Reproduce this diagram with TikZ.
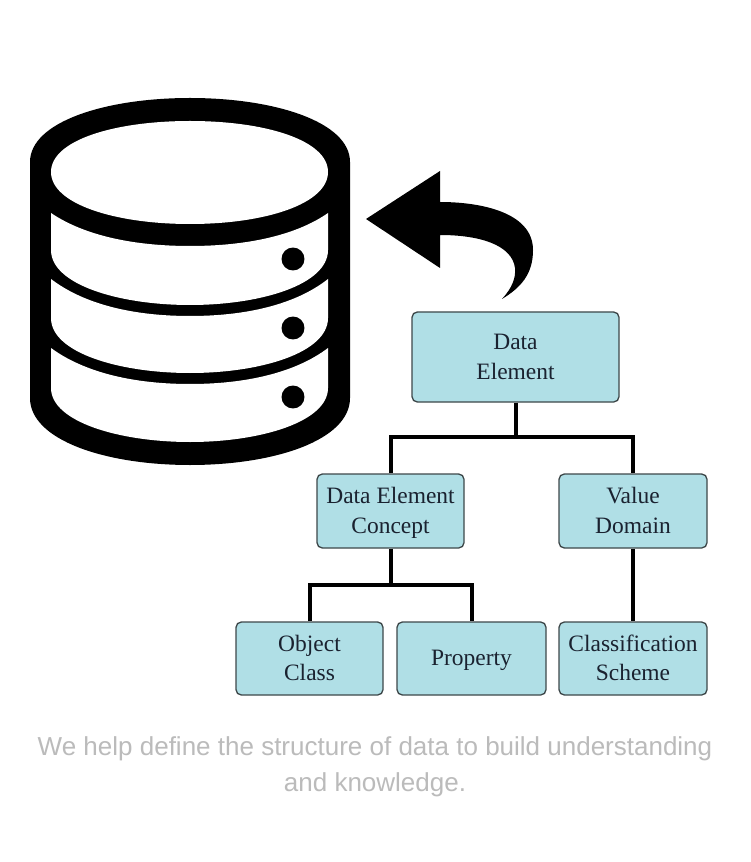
\documentclass[tikz,border=0pt]{standalone}
\usepackage{fontspec}
\setmainfont{Liberation Serif}
\newfontfamily\capfont{Liberation Sans}
\definecolor{boxfill}{HTML}{B0DFE6}
\definecolor{boxline}{HTML}{3E484A}
\definecolor{boxtext}{HTML}{1A2230}
\definecolor{capgray}{HTML}{BBBBBB}
\newcommand{\bstrut}{\rule[-5.3pt]{0pt}{21.8pt}}
\tikzset{
  concept/.style={draw=boxline,line width=1pt,fill=boxfill,rounded corners=4pt,inner sep=0pt,align=center,
    text=boxtext,font=\fontsize{17.6pt}{21.8pt}\selectfont,anchor=center},
  link/.style={draw=black,line width=3pt,line join=miter},
  captiontext/.style={text=capgray,font=\capfont\fontsize{19.5pt}{27pt}\selectfont,align=center,anchor=center,inner sep=0pt},
  panel/.style={fill=white,draw=none}
}
\begin{document}
\begin{tikzpicture}[x=0.75pt,y=-0.75pt]
\useasboundingbox[fill=white] (0,0) rectangle (750,862);
% database
\fill[black] (30,162) .. controls (30,122) and (105,98) .. (190,98) .. controls (275,98) and (350,122) .. (350,162)
  -- (350,398) .. controls (350,440) and (275,465) .. (190,465) .. controls (105,465) and (30,440) .. (30,398) -- cycle;
\fill[panel] (51,172) .. controls (51,140) and (115,121) .. (190,121) .. controls (265,121) and (328,140) .. (328,172)
  .. controls (328,204) and (265,224) .. (190,224) .. controls (115,224) and (51,204) .. (51,172) -- cycle;
\fill[panel] (51,213) .. controls (85,236) and (135,246) .. (190,246) .. controls (245,246) and (295,236) .. (328,213)
  -- (328,250) .. controls (328,285) and (260,305) .. (190,305) .. controls (120,305) and (51,285) .. (51,250) -- cycle;
\fill[panel] (51,279) .. controls (85,305) and (135,316) .. (190,316) .. controls (245,316) and (295,305) .. (328,279)
  -- (328,318) .. controls (328,353) and (260,373) .. (190,373) .. controls (120,373) and (51,353) .. (51,318) -- cycle;
\fill[panel] (51,348) .. controls (85,373) and (135,384) .. (190,384) .. controls (245,384) and (295,373) .. (328,348)
  -- (328,388) .. controls (328,422) and (260,442) .. (190,442) .. controls (120,442) and (51,422) .. (51,388) -- cycle;
\fill[black] (293,259) circle [radius=8.6pt];
\fill[black] (293,328) circle [radius=8.6pt];
\fill[black] (293,397) circle [radius=8.6pt];
% curved arrow
\fill[black] (366,219) -- (440,171) -- (440,202) .. controls (480,202) and (533,212) .. (533,250)
  .. controls (533,275) and (520,288) .. (502,299) .. controls (512,288) and (516,278) .. (515,268)
  .. controls (512,245) and (480,235) .. (440,235) -- (440,268) -- cycle;
% boxes
\node[concept,minimum width=155.25pt,minimum height=67.5pt] (de) at (515.5,357) {\bstrut Data\\\bstrut Element};
\node[concept,minimum width=110.25pt,minimum height=55.5pt] (dec) at (390.5,511) {\bstrut Data Element\\\bstrut Concept};
\node[concept,minimum width=111pt,minimum height=55.5pt] (vd) at (633,511) {\bstrut Value\\\bstrut Domain};
\node[concept,minimum width=110.25pt,minimum height=54.75pt] (oc) at (309.5,658.5) {\bstrut Object\\\bstrut Class};
\node[concept,minimum width=111.75pt,minimum height=54.75pt] (pr) at (471.5,658.5) {\bstrut Property};
\node[concept,minimum width=111pt,minimum height=54.75pt] (cs) at (633,658.5) {\bstrut Classification\\\bstrut Scheme};
% connectors
\coordinate (j1) at (515.5,437);
\coordinate (j2) at (390.5,585);
\draw[link] (de.south) -- (j1);
\draw[link] (dec.north) -- (dec.north |- j1) -- (vd.north |- j1) -- (vd.north);
\draw[link] (dec.south) -- (j2);
\draw[link] (oc.north) -- (oc.north |- j2) -- (pr.north |- j2) -- (pr.north);
\draw[link] (vd.south) -- (cs.north);
% caption
\node[captiontext] (caption) at (375,766.5) {We help define the structure of data to build understanding\\and knowledge.};
\end{tikzpicture}
\end{document}
